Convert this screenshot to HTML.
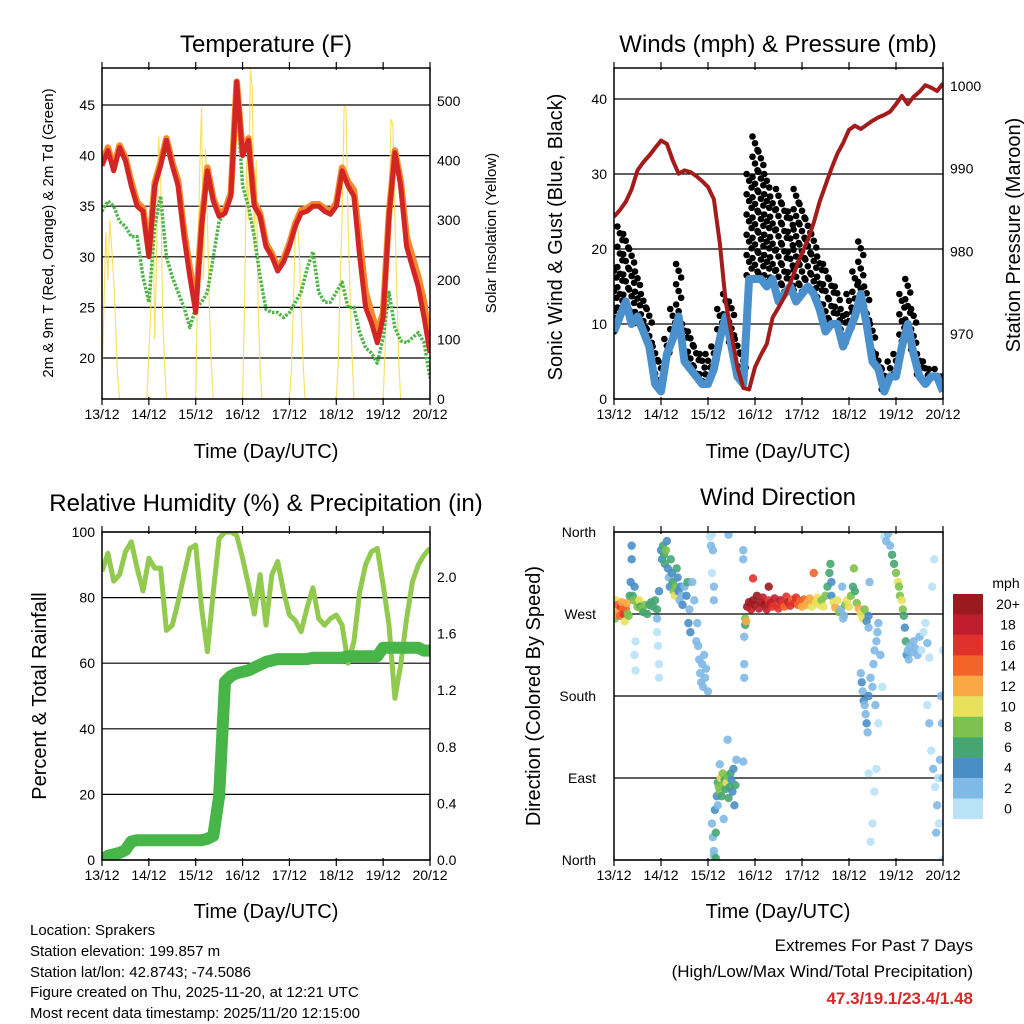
<!DOCTYPE html>
<html><head><meta charset="utf-8">
<style>
html,body{margin:0;padding:0;background:#fff;}
svg{display:block;font-family:"Liberation Sans",Arial,sans-serif;}
</style></head>
<body>
<svg id="c" width="1024" height="1024" viewBox="0 0 1024 1024" xmlns="http://www.w3.org/2000/svg">
<defs>
<clipPath id="cp1"><rect x="102" y="68" width="328" height="331"/></clipPath>
<clipPath id="cp2"><rect x="614" y="68" width="329" height="331"/></clipPath>
<clipPath id="cp3"><rect x="102" y="532" width="328" height="328"/></clipPath>
<clipPath id="cp4"><rect x="614" y="532" width="329" height="328"/></clipPath>
</defs>
<g font-size="24" text-anchor="middle" fill="#000">
<text x="266" y="52">Temperature (F)</text>
<text x="778" y="52">Winds (mph) &amp; Pressure (mb)</text>
<text x="266" y="511">Relative Humidity (%) &amp; Precipitation (in)</text>
<text x="778" y="505">Wind Direction</text>
</g>
<g font-size="20" text-anchor="middle">
<text x="266" y="458">Time (Day/UTC)</text>
<text x="778" y="458">Time (Day/UTC)</text>
<text x="266" y="918">Time (Day/UTC)</text>
<text x="778" y="918">Time (Day/UTC)</text>
<text transform="translate(562,237) rotate(-90)">Sonic Wind &amp; Gust (Blue, Black)</text>
<text transform="translate(1020,235) rotate(-90)">Station Pressure (Maroon)</text>
<text transform="translate(46,696) rotate(-90)">Percent &amp; Total Rainfall</text>
<text transform="translate(540,696) rotate(-90)">Direction (Colored By Speed)</text>
</g>
<g font-size="15" text-anchor="middle">
<text transform="translate(53,233) rotate(-90)">2m &amp; 9m T (Red, Orange) &amp; 2m Td (Green)</text>
<text transform="translate(496,233) rotate(-90)">Solar Insolation (Yellow)</text>
</g>
<g font-size="15" fill="#000">
<text x="30" y="935">Location: Sprakers</text>
<text x="30" y="956">Station elevation: 199.857 m</text>
<text x="30" y="977">Station lat/lon: 42.8743; -74.5086</text>
<text x="30" y="997">Figure created on Thu, 2025-11-20, at 12:21 UTC</text>
<text x="30" y="1018">Most recent data timestamp: 2025/11/20 12:15:00</text>
</g>
<g font-size="17" text-anchor="end">
<text x="973" y="951">Extremes For Past 7 Days</text>
<text x="973" y="977">(High/Low/Max Wind/Total Precipitation)</text>
<text x="973" y="1004" fill="#d42a2a" font-weight="bold">47.3/19.1/23.4/1.48</text>
</g>
<g id="plots"></g>
</svg>
<script>
// ---------- data (3-hourly, starting 13/12 00 UTC) ----------
const dayLabels = ["13/12","14/12","15/12","16/12","17/12","18/12","19/12","20/12"];
const tempRed = [39,40.5,38.5,40.8,39.5,37,35,34.5, 30,37,39,41.5,39,37,32,28, 24.5,33,38.5,35.5,34,34.3,36,47.3, 40,41.5,35,34,31,30,28.6,29.5, 31,33,34.3,34.5,35,35,34.5,34.2, 35,38.5,37,36,30,25,23.5,21.5, 24,34,40.3,37,31,29,27,24, 20.5];
const tempOrange = [39.3,40.8,38.8,41,39.8,37.4,35.4,34.8, 30.5,37.3,39.3,41.7,39.3,37.5,32.6,28.8, 25.2,33.4,38.8,35.8,34.3,34.6,36.3,47.3, 40.3,41.7,35.4,34.3,31.3,30.3,28.9,29.8, 31.3,33.3,34.6,34.8,35.2,35.2,34.8,34.5, 35.3,38.8,37.4,36.6,31.5,26.5,24.5,22.5, 24.5,34.3,40.5,37.5,32,30,28,25.5, 21];
const tempDew = [34.5,35.5,35,33.5,33,32,32,28, 25.5,33,36,30,28,26.5,25,23, 25,25.5,26.5,30,33.5,34.3,36,46, 37,35,32,28,24.8,24.5,24.5,24, 24.5,25.5,26.5,28.8,30.5,26.5,25.5,25.5, 26.5,27.5,25,25,22.5,21,20.5,19.5, 22,26.5,23,21.7,21.5,22,22.5,21.5, 18];
const solarHour = [0,1,2,3,4,5,6,7,8,9, 23,25,26,27,28,29,30,31,32,33, 48,49,50,51,52,53,54,55,56,57, 72,73,74,75,76,77,78,79,80,81,82, 96,97,98,99,100,101,102,103,104, 120,121,122,123,124,125,126,127,128,129, 144,145,146,147,148,149,150,151,152,153, 168];
const solarVal  = [30,160,280,200,300,250,200,120,40,0, 0,150,360,100,250,440,380,150,60,0, 0,200,380,490,200,420,300,150,60,0, 0,150,400,300,555,520,250,400,150,50,0, 0,50,150,280,300,250,150,60,0, 0,60,200,300,490,490,300,180,80,0, 0,80,200,300,470,460,300,180,60,0, 0];
const windSpeed = [9,11,13,10,11,9,7,2, 1,6,8,11,5,4,3,2, 2,4,8,11,7,3,2,16, 16,16,15,16,13,14,15,13, 14,15,14,12,9,10,10,7, 9,11,14,10,5,4,1,3, 3,7,10,6,3,2,3,3, 1];
const windGust  = [18,23,22,20,17,14,12,7, 5,8,12,18,10,9,7,6, 6,7,12,14,13,8,6,30, 35,33,30,27,28,26,25,28, 26,24,22,19,18,16,15,12, 14,17,21,15,10,6,4,5, 6,14,16,12,6,5,4,4, 3];
const pressure = [984.2,985,986,987.5,989.8,990.8,991.6,992.5, 993.4,993,991,989.4,989.8,989.6,989.1,988.5, 987.8,986.3,981,974,970,966,963.5,963.3, 966,967.5,968.8,972,973.2,974.5,976.2,978, 979.8,981.4,983.5,986,988,990,991.8,993.1, 994.7,995.2,994.8,995.3,995.8,996.2,996.5,996.9, 997.8,998.8,997.8,998.7,999.3,1000.1,999.8,999.4, 1000.3];
const relHum = [88,93.5,85,87,94,97,89,82, 92,89,89,70,71.6,78.7,86.9,95, 96,76.8,63.5,81.8,98,100,100,99, 92,84,75,87,71.6,87,91,81.8, 74.7,73,69.6,76.8,83,73.6,71.6,73.6, 74.7,71.6,60,66.6,81.8,90,94,95, 84,71.6,49.3,59.5,73.6,84.8,90,93, 95];
const precip = [0,0.03,0.04,0.05,0.07,0.13,0.14,0.14, 0.14,0.14,0.14,0.14,0.14,0.14,0.14,0.14, 0.14,0.14,0.15,0.17,0.45,1.26,1.30,1.32, 1.33,1.34,1.36,1.38,1.40,1.41,1.42,1.42, 1.42,1.42,1.42,1.42,1.43,1.43,1.43,1.43, 1.43,1.43,1.44,1.44,1.44,1.44,1.44,1.44, 1.50,1.50,1.50,1.50,1.50,1.50,1.50,1.48, 1.48];
const speedBins = ["0","2","4","6","8","10","12","14","16","18","20+"];
const speedColors = ["#b9e2f7","#7fb9e6","#4a8ec6","#46a672","#7dc24e","#e8e15c","#f9a846","#f2642a","#e0322b","#bf1e2d","#9b1a1f"];
// wind direction observations: [hour, degrees, mph]
const dirObs = [[0,275,10],[0.5,265,9],[1,285,11],[1.5,270,12],[2,280,14],[2.5,272,13],[3,268,15],[3.5,278,16],[4,283,12],[4.5,275,14],[5,270,16],[5.5,262,10],[6,276,15],[6.5,282,13],[7,270,9],[7.5,268,8],[8,290,7],[8.5,305,5],[9,330,5],[9,345,4],[9.5,290,7],[10,285,8],[10.5,300,5],[10.5,225,1],[11,240,1],[11,208,1],[12,278,8],[12.5,282,9],[13,285,10],[13.5,278,7],[14,276,8],[15,272,7],[16,280,8],[17,270,6],
[18,280,7],[19,283,7],[20,278,6],[21,285,7],[22,275,6],[22,250,1],[22.5,235,1],[23,215,1],[23,200,1],[22,265,3],[23,295,4],
[24,340,4],[24.5,330,5],[25,345,6],[25.5,335,7],[26,325,6],[26.5,340,8],[27,350,5],[27.5,320,4],[28,310,3],[28.5,300,4],[29,330,6],[29.5,315,5],[30,305,7],[30.5,295,9],[31,290,10],[31.5,300,8],[32,320,7],[32.5,310,5],[33,295,4],[33.5,285,3],[34,300,4],[34.5,290,3],
[35,280,4],[36,300,3],[37,290,4],[37.5,305,6],[38,260,4],[38.5,275,3],[39,250,4],[40,305,3],[41,285,2],[42,240,2],[42.5,260,2],[43,235,3],[43.5,220,2],[44,205,2],[44.5,195,2],[45,215,3],[45.5,190,2],[46,225,2],[46.5,200,3],[47,210,3],[48,185,2],
[49,355,1],[49.5,345,2],[50,358,1],[50.5,340,2],[51,300,2],[51,285,2],[50,315,1],[58.5,357,3],
[50,40,3],[50.5,25,2],[51,10,3],[51.5,55,4],[51,5,3],[52,30,6],[52.5,70,4],[52,2,6],
[53,85,7],[53.5,80,9],[54,75,8],[54.5,90,10],[55,70,6],[55.5,95,8],[56,82,9],[56.5,88,7],[57,78,6],[57.5,85,10],[58,92,8],[58.5,68,7],[59,80,6],[59.5,95,6],[60,88,5],[60.5,75,4],[61,100,4],[61.5,60,4],[62,82,6],[62.5,110,3],[54,105,2],[53,60,2],[56,45,3],[58,132,3],[66,108,3],
[66,340,3],[66,330,3],[66.5,245,3],[66.5,215,3],[66.5,200,3],[67,258,7],[67,265,8],[67.5,262,12],
[68,278,20],[69,283,21],[70,275,19],[71,285,22],[72,280,20],[73,290,21],[74,276,18],[75,283,20],[76,288,19],[77,280,22],[78,275,18],[79,285,17],[80,282,19],[81,278,16],[82,287,18],[83,280,17],[84,276,16],[85,285,18],[86,281,17],[87,278,15],[88,289,16],[89,283,18],[90,279,16],[91,286,15],[92,282,16],[93,288,17],[94,280,15],[95,284,14],[96,278,13],[97,286,14],[98,280,12],[99,283,13],[100,287,12],[101,278,11],[102,284,12],[103,282,10],[104,288,11],[105,280,10],[106,285,9],[107,278,10],[108,290,8],[109,300,7],[110,315,6],[110.5,325,7],[111,305,4],[111,290,4],[112,283,10],[113,277,13],[114,285,10],[115,272,9],[116,275,3],[117,265,3],[117.5,268,2],[116.5,300,3],
[79,300,22],[102,315,14],[71,309,17],
[118,280,9],[119,285,11],[120,278,10],[121,290,8],[122,300,7],[122.5,320,8],[123,295,6],[124,282,9],[125,276,12],[126,270,11],[127,265,10],[128,275,9],[129,262,5],[130,268,4],[130,255,3],[130.5,305,3],
[126,205,3],[126.5,195,4],[127,185,3],[127.5,175,4],[128,170,3],[128.5,160,3],[129,150,4],[129.5,140,3],[130,180,4],[131,200,3],[132,190,2],[132.5,215,2],[133,230,2],[134,240,3],[134.5,250,2],[133.5,170,2],[135,260,2],[136,225,2],[135,150,1],[137,190,1],[134,100,1],[130,95,1],[132,40,1],[133,75,1],[131,20,1],
[138,355,1],[139,350,2],[140,358,3],[141,345,2],
[142,335,6],[143,325,7],[144,315,8],[145,305,10],[145.5,300,9],[146,290,8],[147,285,10],[147.5,275,9],[148,268,6],[148.5,255,5],[149,240,6],[149.5,225,4],[150,230,3],[150.5,220,2],[151,235,3],[152,228,2],[153,240,2],[154,232,2],[155,225,3],[156,245,2],[157,230,1],[158,250,1],[159,260,1],[160,238,2],[161,222,1],
[160,170,1],[161,150,2],[162,120,1],[163,100,2],[164,80,1],[165,60,2],[166,40,1],[167,180,2],[167.5,150,2],[166.5,110,3],[165.5,90,1],[164.5,30,2],[163.5,330,1],[162.5,300,1],[168,90,3],[168,230,1],[168,0,1]];
const tempTicks = [20,25,30,35,40,45];
const solarTicks = [0,100,200,300,400,500];
const windTicks = [0,10,20,30,40];
const pressTicks = [970,980,990,1000];
const rhTicks = [0,20,40,60,80,100];
const precipTicks = ["0.0","0.4","0.8","1.2","1.6","2.0"];
const dirTicks = ["North","East","South","West","North"];

// ---------- axis functions ----------
const NS="http://www.w3.org/2000/svg";
const root=document.getElementById('plots');
function mk(tag, attrs, parent){const e=document.createElementNS(NS,tag);for(const k in attrs)e.setAttribute(k,attrs[k]);(parent||root).appendChild(e);return e;}
const L={x0:102,x1:430}, R={x0:614,x1:943};
const xL=h=>L.x0+h/168*(L.x1-L.x0);
const xR=h=>R.x0+h/168*(R.x1-R.x0);
const yT=v=>358-(v-20)*10.12;
const yS=v=>399-v*0.596;
const yW=v=>399-v*7.5;
const yP=p=>86+(1000-p)*8.27;
const yRH=v=>860-v*3.28;
const yQ=v=>860-v*141.5;
const yD=d=>860-d*(328/360);

function pts(arr,xf,yf,step){return arr.map((v,i)=>xf(i*step).toFixed(1)+','+yf(v).toFixed(1)).join(' ');}

function frame(x0,y0,x1,y1,name,gridYs,xf){
  const g=mk('g',{});
  
  
  gridYs.forEach(y=>{const l=mk('line',{x1:x0,x2:x1,y1:y,y2:y,stroke:'#000','stroke-width':1.2},g);
    
    });
  dayLabels.forEach((d,i)=>{const x=xf(i*24);
    const t1=mk('line',{x1:x,x2:x,y1:y0-6,y2:y0+2,stroke:'#000','stroke-width':1.2},g);
    
    
    const t2=mk('line',{x1:x,x2:x,y1:y1-2,y2:y1+6,stroke:'#000','stroke-width':1.2},g);
    
    
    const tx=mk('text',{x:x,y:y1+20,'font-size':14,'text-anchor':'middle'},g);tx.textContent=d;
    
    });
  return g;
}
function border(x0,y0,x1,y1,name){const r=mk('rect',{x:x0,y:y0,width:x1-x0,height:y1-y0,fill:'none',stroke:'#000','stroke-width':1.5});
  
  }
function ylabel(x,y,txt,anchor,name){const t=mk('text',{x:x,y:y+5,'font-size':14,'text-anchor':anchor});t.textContent=txt;
  
  }

// ---------- Panel 1: temperature ----------
frame(102,68,430,399,'temp',tempTicks.map(yT),xL);
tempTicks.forEach(v=>ylabel(95,yT(v),String(v),'end','temp-y-tick-label'));
solarTicks.forEach(v=>ylabel(437,yS(v),String(v),'start','solar-y-tick-label'));
const g1=mk('g',{'clip-path':'url(#cp1)'});
const solar=mk('polyline',{points:solarHour.map((h,i)=>xL(h).toFixed(1)+','+yS(solarVal[i]).toFixed(1)).join(' '),fill:'none',stroke:'#f7dc4a','stroke-width':1.2,'stroke-opacity':0.85},g1);


const dew=mk('polyline',{points:pts(tempDew,xL,yT,3),fill:'none',stroke:'#4db548','stroke-width':3.5,'stroke-dasharray':'2.5 1.5','stroke-linejoin':'round'},g1);


const or=mk('polyline',{points:pts(tempOrange,xL,yT,3),fill:'none',stroke:'#f5892b','stroke-width':6.5,'stroke-linejoin':'round'},g1);


const red=mk('polyline',{points:pts(tempRed,xL,yT,3),fill:'none',stroke:'#d42525','stroke-width':5,'stroke-linejoin':'round'},g1);


border(102,68,430,399,'temp');

// ---------- Panel 2: winds ----------
frame(614,68,943,399,'wind',windTicks.map(yW),xR);
windTicks.forEach(v=>ylabel(607,yW(v),String(v),'end','wind-y-tick-label'));
pressTicks.forEach(v=>ylabel(950,yP(v),String(v),'start','pressure-y-tick-label'));
const g2=mk('g',{'clip-path':'url(#cp2)'});
const jit=[-2.5,0,2.5];
windGust.forEach((v,i)=>{
  const lo=windSpeed[i];
  for(let s=v,k=0; s>=lo; s-=0.9,k++){
    const c=mk('circle',{cx:xR(i*3)+jit[k%3],cy:yW(s),r:3.3,fill:'#000'},g2);
    
    
  }});
const ws=mk('polyline',{points:pts(windSpeed,xR,yW,3),fill:'none',stroke:'#4a90cd','stroke-width':8,'stroke-linejoin':'round'},g2);


const pr=mk('polyline',{points:pts(pressure,xR,yP,3),fill:'none',stroke:'#a31b1b','stroke-width':4,'stroke-linejoin':'round'},g2);


border(614,68,943,399,'wind');

// ---------- Panel 3: humidity & precip ----------
frame(102,532,430,860,'rh',rhTicks.map(yRH),xL);
rhTicks.forEach(v=>ylabel(95,yRH(v),String(v),'end','rh-y-tick-label'));
precipTicks.forEach(v=>ylabel(437,yQ(parseFloat(v)),v,'start','precip-y-tick-label'));
const g3=mk('g',{'clip-path':'url(#cp3)'});
const rh=mk('polyline',{points:pts(relHum,xL,yRH,3),fill:'none',stroke:'#92c94f','stroke-width':5,'stroke-linejoin':'round'},g3);


const pc=mk('polyline',{points:pts(precip,xL,yQ,3),fill:'none',stroke:'#48b548','stroke-width':12,'stroke-linejoin':'round','stroke-linecap':'round'},g3);


border(102,532,430,860,'rh');

// ---------- Panel 4: wind direction ----------
frame(614,532,943,860,'dir',dirTicks.map((d,i)=>yD(i*90)),xR);
dirTicks.forEach((d,i)=>ylabel(596,yD(i*90),d,'end','dir-y-tick-label'));
const g4=mk('g',{'clip-path':'url(#cp4)'});
dirObs.forEach(o=>{const ci=Math.min(10,Math.floor(o[2]/2));
  const c=mk('circle',{cx:xR(o[0]),cy:yD(o[1]),r:4.2,fill:speedColors[ci],'fill-opacity':0.9},g4);
  
  });
border(614,532,943,860,'dir');

// colorbar
const cbTitle=mk('text',{x:1006,y:588,'font-size':14,'text-anchor':'middle'});cbTitle.textContent='mph';


speedBins.forEach((b,i)=>{const k=10-i; const y=594+i*20.45;
  const r=mk('rect',{x:953,y:y,width:30,height:20.6,fill:speedColors[k]});
  
  
  const t=mk('text',{x:1008,y:y+15,'font-size':14,'text-anchor':'middle'});t.textContent=speedBins[k];
  
  });
</script>
</body></html>
